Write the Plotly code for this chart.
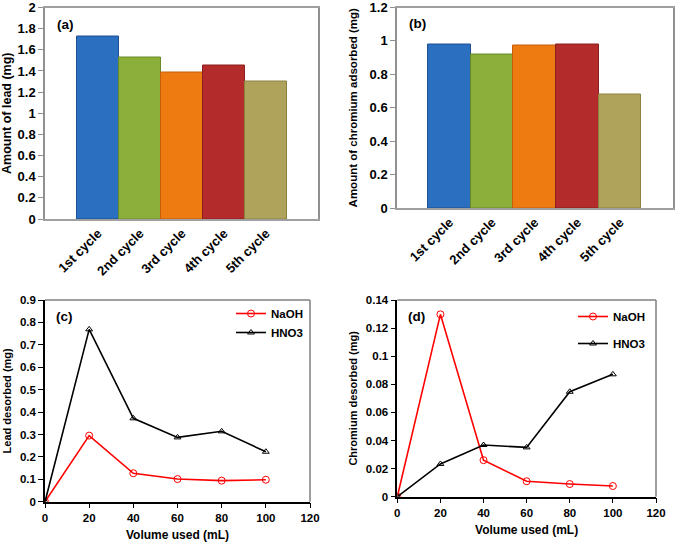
import plotly.graph_objects as go

# ---- data ----
cycles = ["1st cycle", "2nd cycle", "3rd cycle", "4th cycle", "5th cycle"]
lead_amount = [1.73, 1.53, 1.39, 1.45, 1.30]
chromium_adsorbed = [0.98, 0.92, 0.975, 0.98, 0.68]
bar_colors = ["#2B6FC0", "#8BAF3A", "#EE7B12", "#B42B2B", "#AFA35B"]
bar_edges = ["#1F4F93", "#6A8A2A", "#C45F08", "#8A1F1F", "#8A8040"]

volume = [0, 20, 40, 60, 80, 100]
lead_naoh = [0, 0.295, 0.127, 0.101, 0.094, 0.098]
lead_hno3 = [0, 0.769, 0.372, 0.287, 0.314, 0.223]
cr_naoh = [0, 0.1298, 0.026, 0.011, 0.009, 0.0076]
cr_hno3 = [0, 0.0233, 0.0368, 0.0351, 0.0747, 0.0871]

W, H = 675, 542
FONT = "Liberation Sans, Arial, sans-serif"


def fx(px):
    return px / W


def fy(py):
    return 1 - py / H


fig = go.Figure()

# bars (a)
fig.add_trace(go.Bar(x=list(range(5)), y=lead_amount, marker=dict(color=bar_colors, line=dict(color=bar_edges, width=1)),
                     xaxis="x", yaxis="y", showlegend=False))
# bars (b)
fig.add_trace(go.Bar(x=list(range(5)), y=chromium_adsorbed, marker=dict(color=bar_colors, line=dict(color=bar_edges, width=1)),
                     xaxis="x2", yaxis="y2", showlegend=False))

# (c)
fig.add_trace(go.Scatter(x=volume, y=lead_naoh, name="NaOH", mode="lines+markers",
                         line=dict(color="#FF0000", width=1.6),
                         marker=dict(symbol="circle-open", size=7, color="#FF0000"),
                         xaxis="x3", yaxis="y3", legend="legend"))
fig.add_trace(go.Scatter(x=volume, y=lead_hno3, name="HNO3", mode="lines+markers",
                         line=dict(color="#000000", width=1.6),
                         marker=dict(symbol="triangle-up-open", size=6, color="#000000"),
                         xaxis="x3", yaxis="y3", legend="legend"))
# (d)
fig.add_trace(go.Scatter(x=volume, y=cr_naoh, name="NaOH", mode="lines+markers",
                         line=dict(color="#FF0000", width=1.6),
                         marker=dict(symbol="circle-open", size=7, color="#FF0000"),
                         xaxis="x4", yaxis="y4", legend="legend2", legendgroup="a"))
fig.add_trace(go.Scatter(x=volume, y=cr_hno3, name="HNO3", mode="lines+markers",
                         line=dict(color="#000000", width=1.6),
                         marker=dict(symbol="triangle-up-open", size=6, color="#000000"),
                         xaxis="x4", yaxis="y4", legend="legend2", legendgroup="b"))

tickfont_bar = dict(family=FONT, size=13, color="#000", weight="bold")
tickfont_line = dict(family=FONT, size=11.5, color="#000", weight="bold")

bar_x = dict(tickmode="array", tickvals=list(range(5)), ticktext=cycles, tickangle=-45,
             showline=True, linecolor="#A0A0A0", linewidth=1.5, mirror=True, ticks="",
             showgrid=False, zeroline=False, tickfont=tickfont_bar, automargin=False)
bar_y = dict(showline=True, linecolor="#909090", linewidth=1.5, mirror=True, ticks="outside",
             ticklen=5, tickcolor="#909090", showgrid=False, zeroline=False, tickfont=tickfont_bar,
             tickformat="~g", automargin=False, ticklabeloverflow="allow")

line_x = dict(range=[0, 120], dtick=20, showline=True, linecolor="#000", linewidth=1.5,
              mirror=False, ticks="outside", ticklen=5, tickcolor="#000", showgrid=False,
              zeroline=False, tickfont=tickfont_line, automargin=False)
line_y = dict(showline=True, linecolor="#000", linewidth=1.5, ticks="outside", ticklen=5,
              tickcolor="#000", showgrid=False, zeroline=False, tickfont=tickfont_line,
              tickformat="~g", automargin=False)


def ttl(text, size, standoff):
    return dict(text=text, font=dict(family=FONT, size=size, weight="bold", color="#000"), standoff=standoff)


fig.update_layout(
    width=W, height=H, margin=dict(l=0, r=0, t=0, b=0),
    paper_bgcolor="white", plot_bgcolor="white",
    bargap=0,
    xaxis=dict(bar_x, domain=[fx(45), fx(318)], range=[-1.26, 5.24], anchor="y"),
    yaxis=dict(bar_y, domain=[fy(219), fy(7.5)], range=[0, 2], dtick=0.2, anchor="x",
               title=ttl("Amount of lead (mg)", 12.5, 4)),
    xaxis2=dict(bar_x, domain=[fx(397), fx(673)], range=[-1.23, 5.24], anchor="y2"),
    yaxis2=dict(bar_y, domain=[fy(208), fy(7.5)], range=[0, 1.2], dtick=0.2, anchor="x2",
                title=ttl("Amount of chromium adsorbed (mg)", 11.5, 10)),
    xaxis3=dict(line_x, domain=[fx(45), fx(310)], anchor="y3",
                title=ttl("Volume used (mL)", 12, 11)),
    yaxis3=dict(line_y, domain=[fy(501.7), fy(300)], range=[0, 0.9], dtick=0.1, anchor="x3",
                title=ttl("Lead desorbed (mg)", 11, 6)),
    xaxis4=dict(line_x, domain=[fx(397.3), fx(656)], anchor="y4",
                title=ttl("Volume used (mL)", 12, 7)),
    yaxis4=dict(line_y, domain=[fy(496.7), fy(300)], range=[0, 0.14], dtick=0.02, anchor="x4",
                title=ttl("Chromium desorbed (mg)", 11, 6)),
    legend=dict(x=fx(231), y=fy(299), xanchor="left", yanchor="top", bgcolor="rgba(0,0,0,0)",
                font=dict(family=FONT, size=11.5, weight="bold", color="#000"), itemwidth=30,
                tracegroupgap=0),
    legend2=dict(x=fx(573), y=fy(302), xanchor="left", yanchor="top", bgcolor="rgba(0,0,0,0)",
                 font=dict(family=FONT, size=11.5, weight="bold", color="#000"), itemwidth=30,
                 traceorder="grouped", tracegroupgap=8),
)

# top/right borders for (c) and (d)
for xa, ya in [("x3", "y3"), ("x4", "y4")]:
    fig.add_shape(type="line", xref=f"{xa} domain", yref=f"{ya} domain", x0=0, x1=1, y0=1, y1=1,
                  line=dict(color="#7F7F7F", width=1.5))
    fig.add_shape(type="line", xref=f"{xa} domain", yref=f"{ya} domain", x0=1, x1=1, y0=0, y1=1,
                  line=dict(color="#7F7F7F", width=1.5))

labfont = dict(family=FONT, size=13.5, color="#000", weight="bold")
for txt, xa, ya in [("(a)", "x", "y"), ("(b)", "x2", "y2"), ("(c)", "x3", "y3"), ("(d)", "x4", "y4")]:
    fig.add_annotation(text=txt, xref=f"{xa} domain", yref=f"{ya} domain", x=0.035, y=0.918,
                       xanchor="left", yanchor="middle", showarrow=False, font=labfont)

fig.write_html("out.html", post_script="document.body.style.margin='0';",
               config={"displayModeBar": False})
